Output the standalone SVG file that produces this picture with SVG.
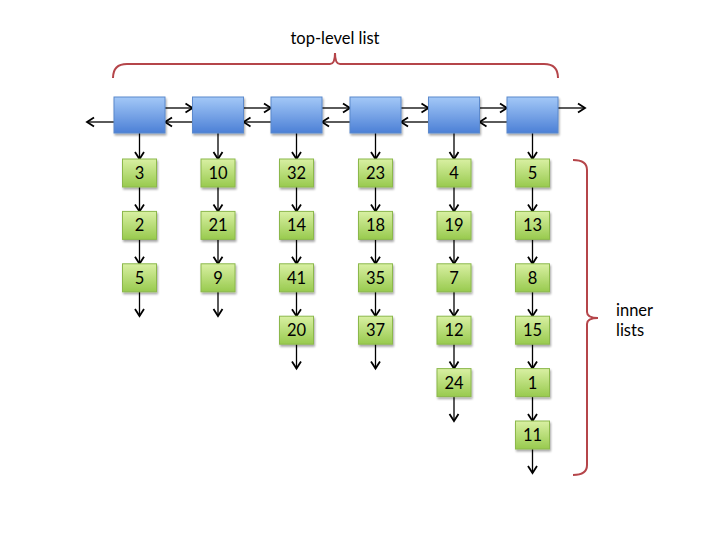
<svg xmlns="http://www.w3.org/2000/svg" width="720" height="540" viewBox="0 0 720 540">
<defs>
<linearGradient id="gb" x1="0" y1="0" x2="0" y2="1">
<stop offset="0" stop-color="#a3c8f7"/>
<stop offset="1" stop-color="#4c80d6"/>
</linearGradient>
<linearGradient id="gg" x1="0" y1="0" x2="0" y2="1">
<stop offset="0" stop-color="#d9f0a3"/>
<stop offset="1" stop-color="#98ca4e"/>
</linearGradient>
<marker id="ah" markerUnits="userSpaceOnUse" markerWidth="12" markerHeight="12" refX="10" refY="6" orient="auto">
<path d="M3,1.5 L10,6 L3,10.5" fill="none" stroke="#000" stroke-width="1.8"/>
</marker>
<filter id="sh" x="-20%" y="-20%" width="150%" height="150%">
<feGaussianBlur in="SourceAlpha" stdDeviation="1"/>
<feOffset dx="0.5" dy="1.5"/>
<feComponentTransfer><feFuncA type="linear" slope="0.35"/></feComponentTransfer>
<feMerge><feMergeNode/><feMergeNode in="SourceGraphic"/></feMerge>
</filter>
</defs>
<style>
.top{fill:url(#gb);stroke:#5b89cc;stroke-width:1}
.inn{fill:url(#gg);stroke:#8cb84c;stroke-width:1}
.t{font-family:Lato,"Open Sans","Liberation Sans",sans-serif;font-size:16.5px;fill:#000;text-anchor:middle}
.lbl{font-family:Lato,"Open Sans","Liberation Sans",sans-serif;font-size:16.5px;fill:#000}
.c{stroke:#000;stroke-width:1.3;fill:none;marker-end:url(#ah)}
.br{stroke:#b5454a;stroke-width:2;fill:none}
</style>

<g id="brace-top">
<path class="br" d="M113,78 Q113,64 127,64 L330,64 Q335,64 335,53 Q335,64 340,64 L544,64 Q558,64 558,78"/>
<text class="t" x="335" y="44">top-level list</text>
</g>
<g id="brace-inner">
<path class="br" d="M573,160 Q587,160 587,170 L587,312 Q587,318 598,318 Q587,318 587,324 L587,465 Q587,475 573,475"/>
<text class="lbl" x="616" y="316">inner</text>
<text class="lbl" x="616" y="336">lists</text>
</g>

<g id="connectors">
<line class="c" x1="114" y1="122" x2="87" y2="122"/>
<line class="c" x1="165" y1="108" x2="192.5" y2="108"/>
<line class="c" x1="192.5" y1="122" x2="165" y2="122"/>
<line class="c" x1="243.5" y1="108" x2="271" y2="108"/>
<line class="c" x1="271" y1="122" x2="243.5" y2="122"/>
<line class="c" x1="322" y1="108" x2="350" y2="108"/>
<line class="c" x1="350" y1="122" x2="322" y2="122"/>
<line class="c" x1="401" y1="108" x2="428.5" y2="108"/>
<line class="c" x1="428.5" y1="122" x2="401" y2="122"/>
<line class="c" x1="479.5" y1="108" x2="507" y2="108"/>
<line class="c" x1="507" y1="122" x2="479.5" y2="122"/>
<line class="c" x1="558" y1="108" x2="585" y2="108"/>
<line class="c" x1="139.5" y1="133" x2="139.5" y2="159"/>
<line class="c" x1="139.5" y1="187" x2="139.5" y2="211.4"/>
<line class="c" x1="139.5" y1="239.4" x2="139.5" y2="263.8"/>
<line class="c" x1="139.5" y1="291.8" x2="139.5" y2="316"/>
<line class="c" x1="218" y1="133" x2="218" y2="159"/>
<line class="c" x1="218" y1="187" x2="218" y2="211.4"/>
<line class="c" x1="218" y1="239.4" x2="218" y2="263.8"/>
<line class="c" x1="218" y1="291.8" x2="218" y2="316"/>
<line class="c" x1="296.5" y1="133" x2="296.5" y2="159"/>
<line class="c" x1="296.5" y1="187" x2="296.5" y2="211.4"/>
<line class="c" x1="296.5" y1="239.4" x2="296.5" y2="263.8"/>
<line class="c" x1="296.5" y1="291.8" x2="296.5" y2="316.2"/>
<line class="c" x1="296.5" y1="344.2" x2="296.5" y2="368.5"/>
<line class="c" x1="375.5" y1="133" x2="375.5" y2="159"/>
<line class="c" x1="375.5" y1="187" x2="375.5" y2="211.4"/>
<line class="c" x1="375.5" y1="239.4" x2="375.5" y2="263.8"/>
<line class="c" x1="375.5" y1="291.8" x2="375.5" y2="316.2"/>
<line class="c" x1="375.5" y1="344.2" x2="375.5" y2="368.5"/>
<line class="c" x1="454" y1="133" x2="454" y2="159"/>
<line class="c" x1="454" y1="187" x2="454" y2="211.4"/>
<line class="c" x1="454" y1="239.4" x2="454" y2="263.8"/>
<line class="c" x1="454" y1="291.8" x2="454" y2="316.2"/>
<line class="c" x1="454" y1="344.2" x2="454" y2="368.6"/>
<line class="c" x1="454" y1="396.6" x2="454" y2="421"/>
<line class="c" x1="532.5" y1="133" x2="532.5" y2="159"/>
<line class="c" x1="532.5" y1="187" x2="532.5" y2="211.4"/>
<line class="c" x1="532.5" y1="239.4" x2="532.5" y2="263.8"/>
<line class="c" x1="532.5" y1="291.8" x2="532.5" y2="316.2"/>
<line class="c" x1="532.5" y1="344.2" x2="532.5" y2="368.6"/>
<line class="c" x1="532.5" y1="396.6" x2="532.5" y2="421"/>
<line class="c" x1="532.5" y1="449" x2="532.5" y2="473"/>
</g>

<g id="top-1" filter="url(#sh)"><rect class="top" x="114" y="97" width="51" height="36"/></g>
<g id="top-2" filter="url(#sh)"><rect class="top" x="192.5" y="97" width="51" height="36"/></g>
<g id="top-3" filter="url(#sh)"><rect class="top" x="271" y="97" width="51" height="36"/></g>
<g id="top-4" filter="url(#sh)"><rect class="top" x="350" y="97" width="51" height="36"/></g>
<g id="top-5" filter="url(#sh)"><rect class="top" x="428.5" y="97" width="51" height="36"/></g>
<g id="top-6" filter="url(#sh)"><rect class="top" x="507" y="97" width="51" height="36"/></g>

<g id="n1-1"><rect class="inn" filter="url(#sh)" x="122.5" y="159" width="34" height="28"/><text class="t" x="139.5" y="179">3</text></g>
<g id="n1-2"><rect class="inn" filter="url(#sh)" x="122.5" y="211.4" width="34" height="28"/><text class="t" x="139.5" y="231.4">2</text></g>
<g id="n1-3"><rect class="inn" filter="url(#sh)" x="122.5" y="263.8" width="34" height="28"/><text class="t" x="139.5" y="283.8">5</text></g>

<g id="n2-1"><rect class="inn" filter="url(#sh)" x="201" y="159" width="34" height="28"/><text class="t" x="218" y="179">10</text></g>
<g id="n2-2"><rect class="inn" filter="url(#sh)" x="201" y="211.4" width="34" height="28"/><text class="t" x="218" y="231.4">21</text></g>
<g id="n2-3"><rect class="inn" filter="url(#sh)" x="201" y="263.8" width="34" height="28"/><text class="t" x="218" y="283.8">9</text></g>

<g id="n3-1"><rect class="inn" filter="url(#sh)" x="279.5" y="159" width="34" height="28"/><text class="t" x="296.5" y="179">32</text></g>
<g id="n3-2"><rect class="inn" filter="url(#sh)" x="279.5" y="211.4" width="34" height="28"/><text class="t" x="296.5" y="231.4">14</text></g>
<g id="n3-3"><rect class="inn" filter="url(#sh)" x="279.5" y="263.8" width="34" height="28"/><text class="t" x="296.5" y="283.8">41</text></g>
<g id="n3-4"><rect class="inn" filter="url(#sh)" x="279.5" y="316.2" width="34" height="28"/><text class="t" x="296.5" y="336.2">20</text></g>

<g id="n4-1"><rect class="inn" filter="url(#sh)" x="358.5" y="159" width="34" height="28"/><text class="t" x="375.5" y="179">23</text></g>
<g id="n4-2"><rect class="inn" filter="url(#sh)" x="358.5" y="211.4" width="34" height="28"/><text class="t" x="375.5" y="231.4">18</text></g>
<g id="n4-3"><rect class="inn" filter="url(#sh)" x="358.5" y="263.8" width="34" height="28"/><text class="t" x="375.5" y="283.8">35</text></g>
<g id="n4-4"><rect class="inn" filter="url(#sh)" x="358.5" y="316.2" width="34" height="28"/><text class="t" x="375.5" y="336.2">37</text></g>

<g id="n5-1"><rect class="inn" filter="url(#sh)" x="437" y="159" width="34" height="28"/><text class="t" x="454" y="179">4</text></g>
<g id="n5-2"><rect class="inn" filter="url(#sh)" x="437" y="211.4" width="34" height="28"/><text class="t" x="454" y="231.4">19</text></g>
<g id="n5-3"><rect class="inn" filter="url(#sh)" x="437" y="263.8" width="34" height="28"/><text class="t" x="454" y="283.8">7</text></g>
<g id="n5-4"><rect class="inn" filter="url(#sh)" x="437" y="316.2" width="34" height="28"/><text class="t" x="454" y="336.2">12</text></g>
<g id="n5-5"><rect class="inn" filter="url(#sh)" x="437" y="368.6" width="34" height="28"/><text class="t" x="454" y="388.6">24</text></g>

<g id="n6-1"><rect class="inn" filter="url(#sh)" x="515.5" y="159" width="34" height="28"/><text class="t" x="532.5" y="179">5</text></g>
<g id="n6-2"><rect class="inn" filter="url(#sh)" x="515.5" y="211.4" width="34" height="28"/><text class="t" x="532.5" y="231.4">13</text></g>
<g id="n6-3"><rect class="inn" filter="url(#sh)" x="515.5" y="263.8" width="34" height="28"/><text class="t" x="532.5" y="283.8">8</text></g>
<g id="n6-4"><rect class="inn" filter="url(#sh)" x="515.5" y="316.2" width="34" height="28"/><text class="t" x="532.5" y="336.2">15</text></g>
<g id="n6-5"><rect class="inn" filter="url(#sh)" x="515.5" y="368.6" width="34" height="28"/><text class="t" x="532.5" y="388.6">1</text></g>
<g id="n6-6"><rect class="inn" filter="url(#sh)" x="515.5" y="421" width="34" height="28"/><text class="t" x="532.5" y="441">11</text></g>
</svg>
